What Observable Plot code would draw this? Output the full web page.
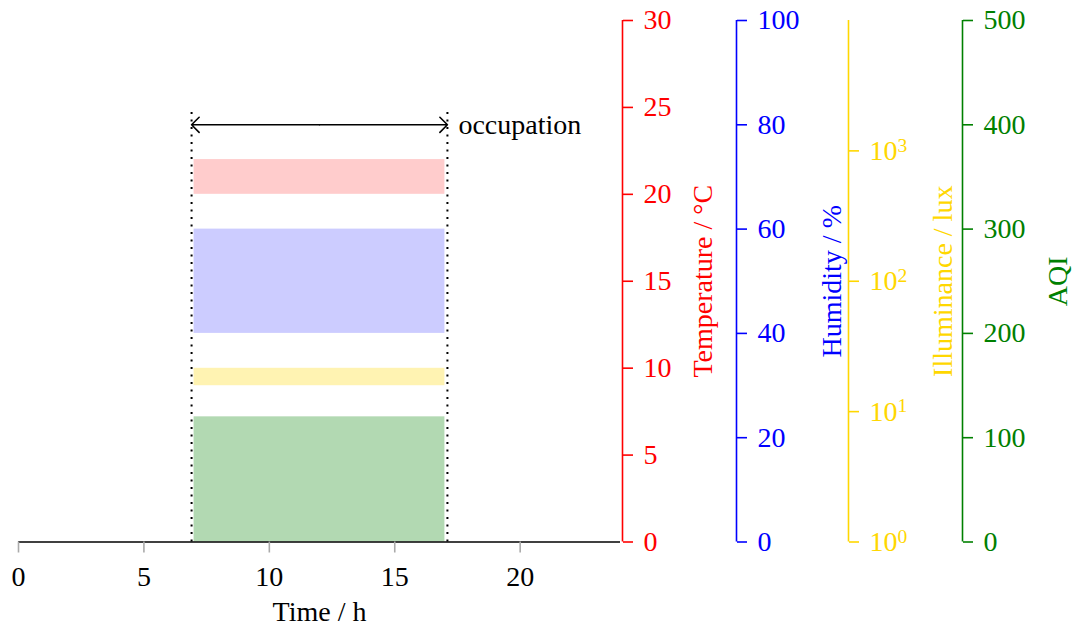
<!DOCTYPE html>
<html>
<head>
<meta charset="utf-8">
<script src="https://cdn.jsdelivr.net/npm/d3@7"></script>
<script src="https://cdn.jsdelivr.net/npm/@observablehq/plot@0.6"></script>
<style>
  html, body { margin: 0; padding: 0; background: #fff; }
</style>
</head>
<body>
<div id="chart"></div>
<script>
// ---- data ----
const timeTicks = [0, 5, 10, 15, 20];
const temperatureTicks = [0, 5, 10, 15, 20, 25, 30];
const humidityTicks = [0, 20, 40, 60, 80, 100];
const illuminanceTicks = [1, 10, 100, 1000];
const aqiTicks = [0, 100, 200, 300, 400, 500];

const occupation = [6.9, 17.1];      // h
const occupationArrowLevel = 24;     // °C
const occupationLineTop = 25;        // °C
const comfortTime = [7, 17];         // h
const temperatureBand = [20, 22];    // °C
const humidityBand = [40, 60];       // %
const illuminanceBand = [15.8, 21.5];// lux
const aqiBand = [0, 120];            // AQI

// ---- axis conversions onto the temperature (primary) scale ----
const tempMax = 30;
const humToT = v => v * tempMax / 100;
const luxToT = v => Math.log10(v) * tempMax / 4;
const aqiToT = v => v * tempMax / 500;

const bands = [
  {y1: temperatureBand[0], y2: temperatureBand[1], fill: "red", op: 0.2},
  {y1: humToT(humidityBand[0]), y2: humToT(humidityBand[1]), fill: "blue", op: 0.2},
  {y1: luxToT(illuminanceBand[0]), y2: luxToT(illuminanceBand[1]), fill: "#ffd700", op: 0.3},
  {y1: aqiToT(aqiBand[0]), y2: aqiToT(aqiBand[1]), fill: "green", op: 0.3}
];

const occMid = (occupation[0] + occupation[1]) / 2;
const arrows = [
  {a: occMid, b: occupation[0]},
  {a: occMid, b: occupation[1]}
];

const FS = 28;
const common = {anchor: "right", tickSize: 10, tickPadding: 11, fontSize: FS, strokeWidth: 1.6, label: null};
const title = (label, dx, fill) =>
  Plot.text([label], {text: d => d, frameAnchor: "right", dx, rotate: -90, fill, fontSize: FS, textAnchor: "middle", lineAnchor: "middle"});

const plot = Plot.plot({
  width: 1075,
  height: 628,
  marginLeft: 18,
  marginRight: 455,
  marginTop: 20,
  marginBottom: 86.5,
  style: {fontFamily: "'Liberation Serif', 'Times New Roman', serif", fontSize: FS + "px", background: "#fff"},
  x: {domain: [0, 24]},
  y: {domain: [0, tempMax]},
  marks: [
    Plot.rect(bands, {x1: comfortTime[0], x2: comfortTime[1], y1: "y1", y2: "y2", fill: "fill", fillOpacity: "op"}),
    Plot.ruleX([occupation[0]], {y1: 0, y2: occupationLineTop, stroke: "black", strokeWidth: 2, strokeDasharray: "2,5.5"}),
    Plot.ruleX([occupation[1]], {y1: 0, y2: occupationLineTop, stroke: "black", strokeWidth: 2, strokeDasharray: "2,5.5"}),
    Plot.arrow(arrows, {x1: "a", x2: "b", y1: occupationArrowLevel, y2: occupationArrowLevel, stroke: "black", strokeWidth: 1.6, headLength: 10, headAngle: 90}),
    Plot.text(["occupation"], {text: d => d, x: occupation[1], y: occupationArrowLevel, dx: 11, textAnchor: "start", lineAnchor: "middle", fontSize: FS, fill: "black"}),
    Plot.ruleY([0], {stroke: "black", strokeWidth: 1.6}),
    Plot.axisX(timeTicks, {anchor: "bottom", tickSize: 11, tickPadding: 13, stroke: "#aaa", fill: "black", strokeWidth: 1.6, fontSize: FS, label: null}),
    Plot.text(["Time / h"], {text: d => d, frameAnchor: "bottom", dy: 70, lineAnchor: "middle", fontSize: FS, fill: "black"}),

    // Temperature axis
    Plot.ruleX([24], {dx: 2, stroke: "red", strokeWidth: 1.6}),
    Plot.axisY(temperatureTicks, {...common, dx: 2, color: "red", tickFormat: d => String(d)}),
    title("Temperature / °C", 83, "red"),

    // Humidity axis
    Plot.ruleX([24], {dx: 116, stroke: "blue", strokeWidth: 1.6}),
    Plot.axisY(humidityTicks.map(humToT), {...common, dx: 116, color: "blue", tickFormat: d => String(Math.round(d * 100 / tempMax))}),
    title("Humidity / %", 212, "blue"),

    // Illuminance axis (log)
    Plot.ruleX([24], {dx: 228, stroke: "#ffd700", strokeWidth: 1.6}),
    Plot.axisY(illuminanceTicks.map(luxToT), {...common, dx: 228, color: "#ffd700", tickFormat: d => "10^" + Math.round(d * 4 / tempMax)}),
    title("Illuminance / lux", 323, "#ffd700"),

    // AQI axis
    Plot.ruleX([24], {dx: 342, stroke: "green", strokeWidth: 1.6}),
    Plot.axisY(aqiTicks.map(aqiToT), {...common, dx: 342, color: "green", tickFormat: d => String(Math.round(d * 500 / tempMax))}),
    title("AQI", 438, "green")
  ]
});

// superscript exponents on the log axis labels
d3.select(plot).selectAll("text").each(function() {
  const m = /^10\^(\d)$/.exec(this.textContent);
  if (!m) return;
  const t = d3.select(this);
  t.text("10");
  t.append("tspan").attr("dy", "-0.42em").attr("font-size", "0.7em").text(m[1]);
});

document.getElementById("chart").appendChild(plot);
</script>
</body>
</html>
